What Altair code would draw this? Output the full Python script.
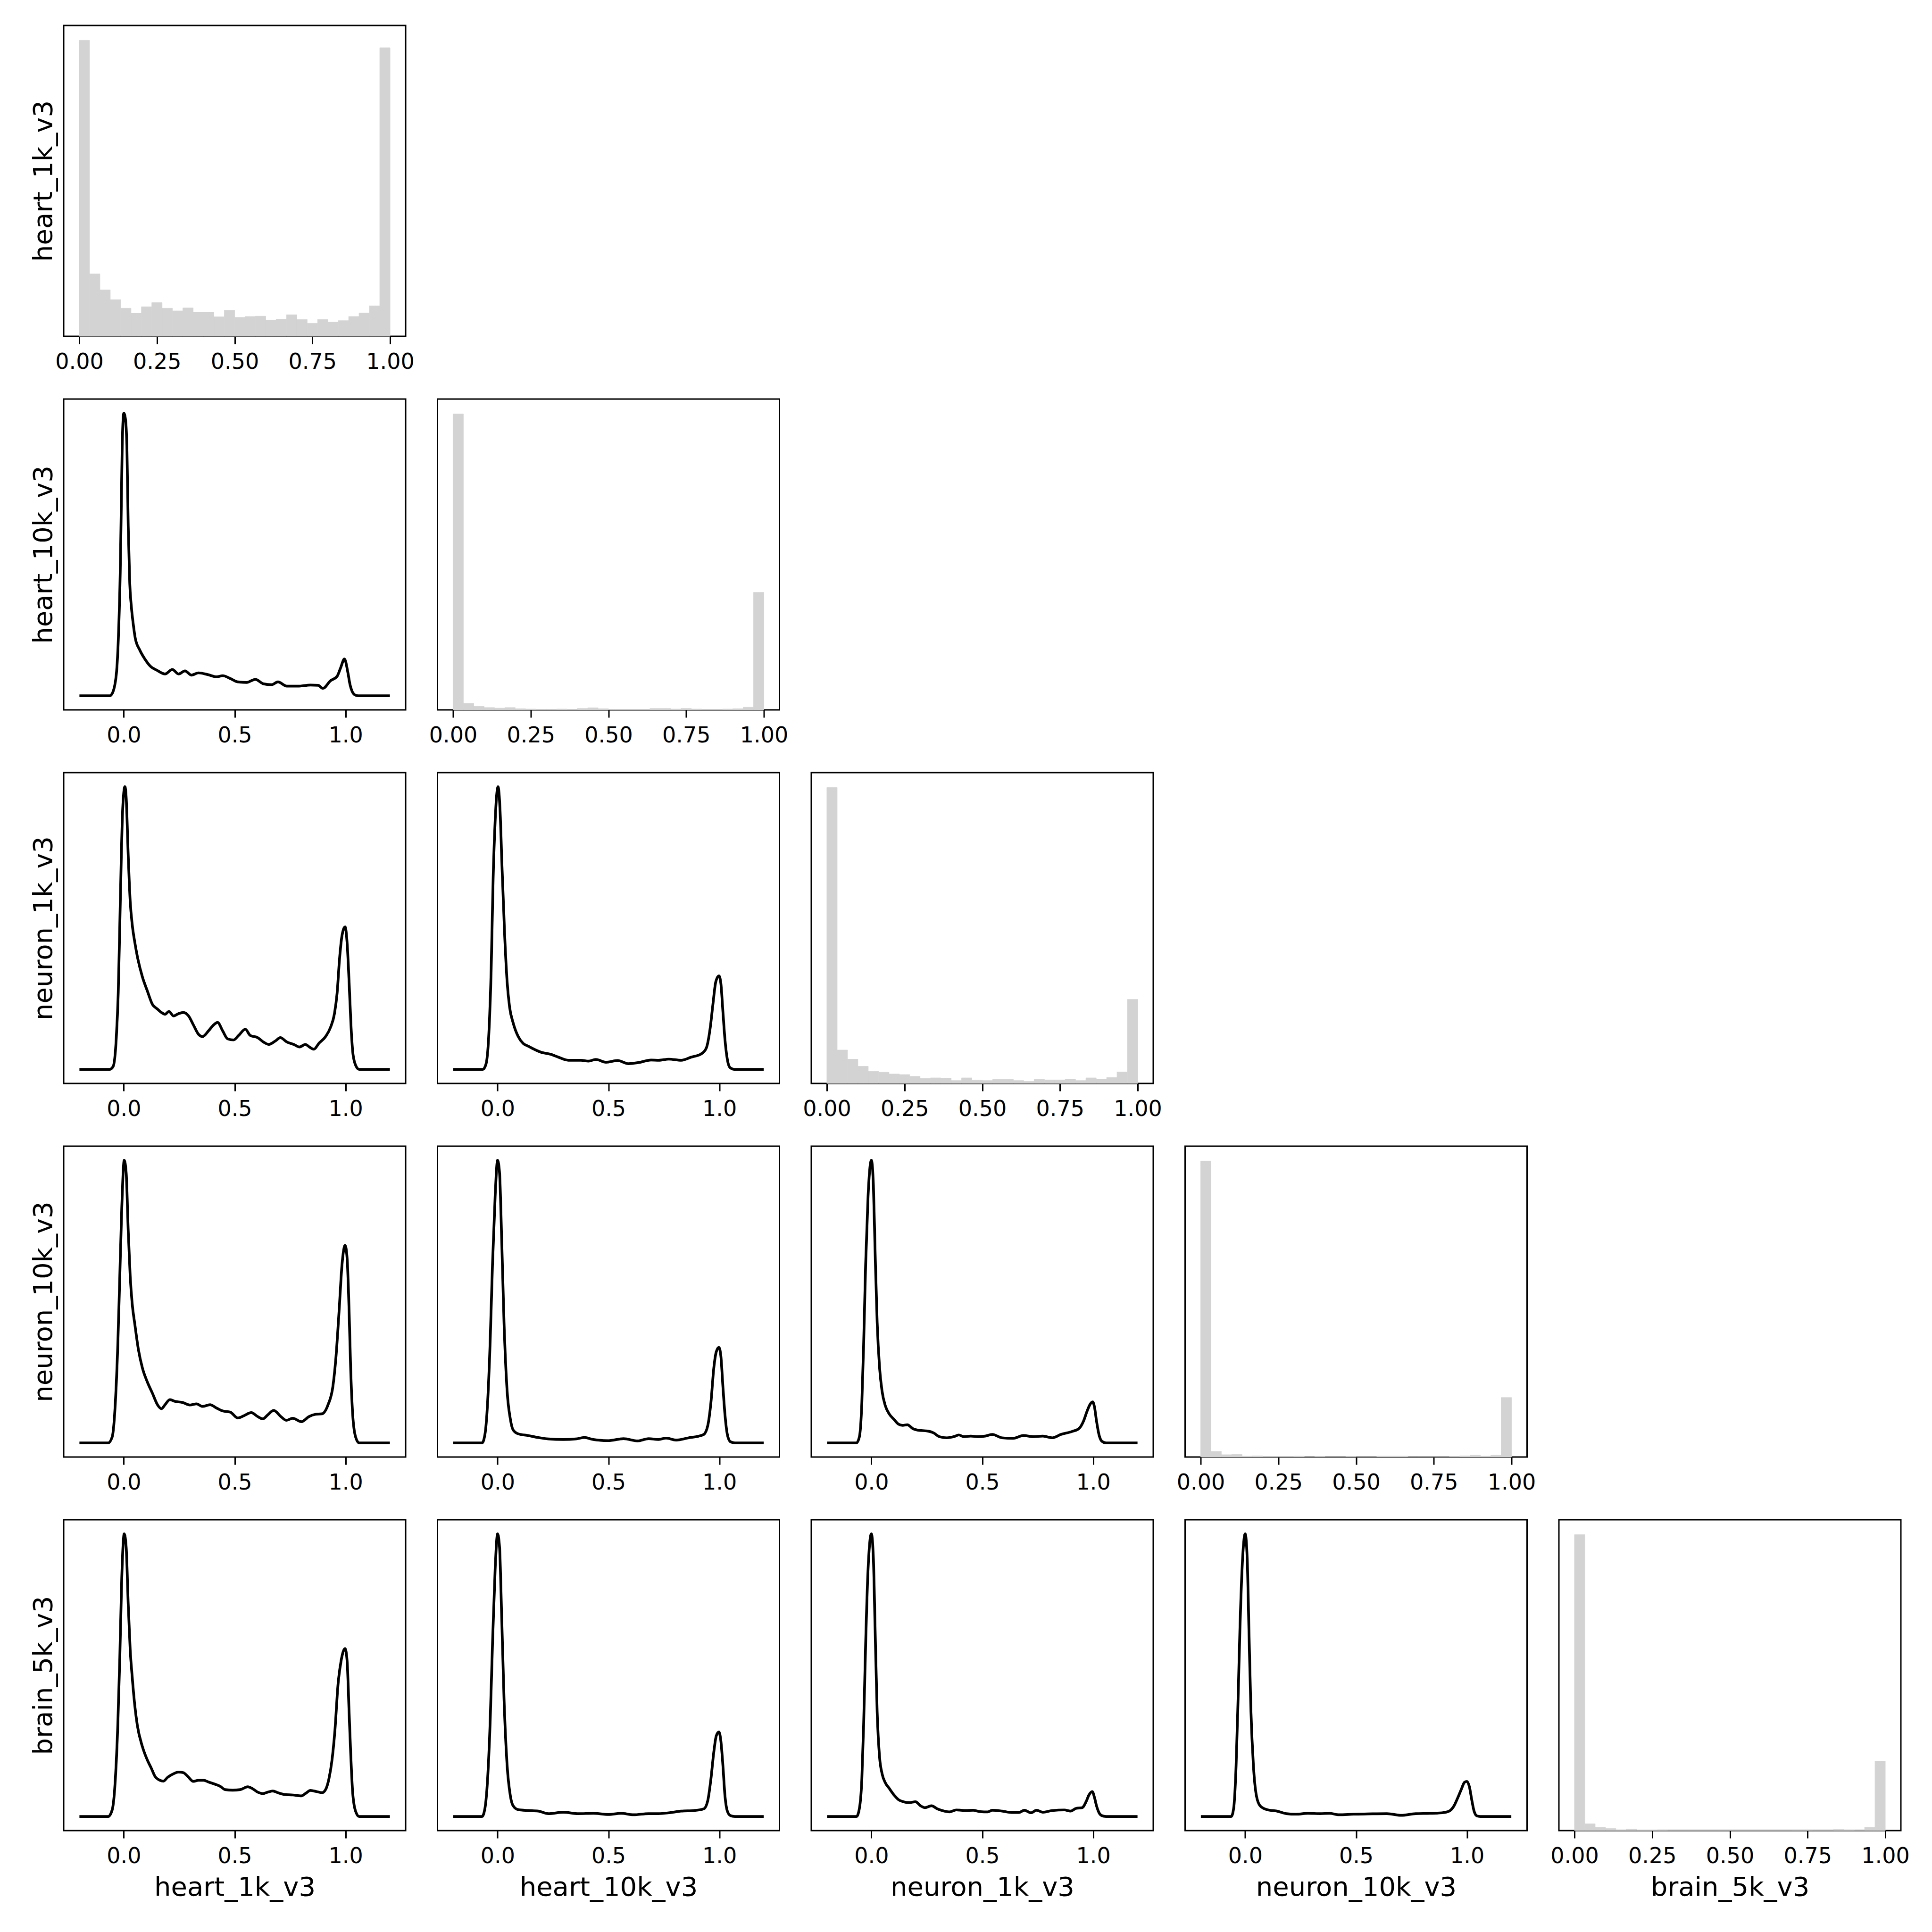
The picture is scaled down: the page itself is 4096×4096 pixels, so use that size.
import altair as alt
import pandas as pd

VARS = ["heart_1k_v3", "heart_10k_v3", "neuron_1k_v3", "neuron_10k_v3", "brain_5k_v3"]
BIN_EDGES = [i / 30 for i in range(31)]
HIST_TICKS = [0, 0.25, 0.5, 0.75, 1.0]
KDE_TICKS = [0, 0.5, 1.0]

# ---- diagonal histograms (relative counts, tallest bar = 100) ----
HIST_HEART_1K = [100, 21.1, 15.7, 12.4, 9.5, 7.8, 10.0, 11.4, 9.5, 8.6, 9.6, 8.2, 8.2, 6.6, 8.8,
                 6.4, 6.7, 6.8, 5.5, 5.8, 7.3, 5.7, 4.4, 5.7, 4.8, 5.3, 6.7, 7.9, 10.3, 97.5]
HIST_HEART_10K = [100, 2.2, 1.2, 0.8, 0.6, 0.8, 0.4, 0.3, 0.2, 0.2, 0.3, 0.2, 0.5, 0.7, 0.4,
                  0.2, 0.2, 0.2, 0.2, 0.5, 0.5, 0.3, 0.5, 0.3, 0.2, 0.2, 0.3, 0.4, 0.9, 39.7]
HIST_NEURON_1K = [100, 11.3, 8.2, 5.8, 4.1, 3.8, 3.2, 3.0, 2.4, 1.7, 1.9, 1.8, 1.0, 1.9, 1.1,
                  1.0, 1.4, 1.4, 1.0, 0.7, 1.4, 1.2, 1.2, 1.5, 1.0, 1.9, 1.5, 2.0, 3.9, 28.4]
HIST_NEURON_10K = [100, 1.9, 0.8, 0.9, 0.3, 0.4, 0.2, 0.2, 0.2, 0.3, 0.1, 0.2, 0.1, 0.1, 0.2,
                   0.1, 0.1, 0.3, 0.3, 0.3, 0.1, 0.1, 0.1, 0.1, 0.2, 0.4, 0.6, 0.3, 0.6, 20.1]
HIST_BRAIN_5K = [100, 2.3, 1.1, 0.7, 0.3, 0.5, 0.2, 0.2, 0.3, 0.1, 0.1, 0.1, 0.1, 0.1, 0.1,
                 0.1, 0.1, 0.1, 0.1, 0.1, 0.1, 0.1, 0.1, 0.1, 0.1, 0.4, 0.3, 0.1, 1.1, 23.5]
HISTS = [HIST_HEART_1K, HIST_HEART_10K, HIST_NEURON_1K, HIST_NEURON_10K, HIST_BRAIN_5K]

# ---- lower-triangle density curves (relative density, peak = 100) ----
# row 2, col 1
K21_X = [-0.2, -0.063, -0.052, -0.034, -0.023, -0.016, -0.011, -0.007, 0.0, 0.007, 0.014, 0.020,
         0.027, 0.034, 0.043, 0.052, 0.072, 0.095, 0.118, 0.152, 0.186, 0.219, 0.247, 0.276,
         0.305, 0.337, 0.378, 0.419, 0.446, 0.480, 0.514, 0.554, 0.593, 0.631, 0.667, 0.695,
         0.735, 0.785, 0.842, 0.876, 0.898, 0.932, 0.962, 0.977, 0.995, 1.011, 1.020, 1.030,
         1.045, 1.057, 1.2]
K21_Y = [0, 0, 0.8, 7.3, 23.5, 43.8, 68, 88.5, 100, 98.2, 88.5, 60, 39.8, 31.7, 25.2, 20.3, 16.2,
         13, 10.6, 8.9, 7.7, 9.3, 7.7, 8.8, 7.3, 8.1, 7.5, 6.7, 7.1, 6.1, 4.9, 4.7, 5.8, 4.2, 3.9,
         4.9, 3.4, 3.4, 3.8, 3.7, 2.6, 5.3, 6.9, 9.7, 13, 8.0, 4.0, 1.5, 0.2, 0, 0]
# row 3, col 1
K31_X = [-0.2, -0.063, -0.048, -0.034, -0.025, -0.018, -0.011, -0.005, 0.005, 0.011, 0.020,
         0.029, 0.038, 0.050, 0.061, 0.084, 0.106, 0.129, 0.152, 0.170, 0.186, 0.204, 0.224,
         0.247, 0.269, 0.292, 0.314, 0.337, 0.355, 0.382, 0.405, 0.423, 0.446, 0.468, 0.495,
         0.518, 0.548, 0.570, 0.604, 0.631, 0.654, 0.683, 0.706, 0.735, 0.767, 0.792, 0.819,
         0.837, 0.857, 0.880, 0.910, 0.932, 0.950, 0.962, 0.973, 0.984, 0.998, 1.007, 1.016,
         1.025, 1.034, 1.048, 1.061, 1.2]
K31_Y = [0, 0, 1, 10.8, 27, 51, 75.7, 91.9, 100, 96, 75.7, 59.4, 51.3, 44.8, 40, 32.7, 27.8, 23,
         21.3, 20.1, 19.5, 20.5, 18.9, 19.7, 20.1, 18.9, 15.7, 12.4, 11.6, 13.6, 15.7, 16.6,
         13.6, 10.8, 10.4, 12, 14.2, 12, 11.2, 9.6, 8.8, 10, 11.2, 9.7, 8.8, 7.9, 8.8, 7.9, 7.1,
         9.2, 11.6, 14.8, 19.7, 27, 39.2, 47.3, 50.4, 44.8, 31, 14.8, 5.1, 1, 0, 0]
# row 3, col 2
K32_X = [-0.2, -0.066, -0.052, -0.038, -0.029, -0.020, -0.011, 0.002, 0.011, 0.020, 0.032,
         0.043, 0.054, 0.070, 0.093, 0.115, 0.138, 0.165, 0.194, 0.240, 0.274, 0.319, 0.376,
         0.410, 0.443, 0.489, 0.541, 0.591, 0.636, 0.692, 0.727, 0.772, 0.828, 0.873, 0.919,
         0.941, 0.959, 0.971, 0.984, 0.998, 1.007, 1.016, 1.025, 1.036, 1.048, 1.066, 1.2]
K32_Y = [0, 0, 1.9, 14.8, 35, 67.6, 87.8, 100, 91.9, 71.6, 47.3, 31, 22.1, 16.5, 11.6, 9.2, 8.2,
         7.1, 6.1, 5.3, 4.3, 3.2, 3.2, 2.9, 3.5, 2.5, 3.1, 2.0, 2.4, 3.3, 3.2, 3.6, 3.2, 4.3,
         5.5, 7.5, 14.8, 23, 31, 33.1, 30.3, 20.5, 10.8, 3.5, 0.6, 0, 0]
# row 4, col 1
K41_X = [-0.2, -0.07, -0.052, -0.038, -0.027, -0.018, -0.009, 0.002, 0.011, 0.020, 0.029,
         0.038, 0.050, 0.066, 0.084, 0.106, 0.129, 0.152, 0.170, 0.186, 0.208, 0.231, 0.265,
         0.299, 0.328, 0.355, 0.389, 0.419, 0.446, 0.480, 0.514, 0.541, 0.575, 0.604, 0.627,
         0.649, 0.676, 0.706, 0.733, 0.762, 0.801, 0.835, 0.864, 0.894, 0.921, 0.943, 0.957,
         0.971, 0.984, 0.998, 1.007, 1.016, 1.023, 1.032, 1.045, 1.061, 1.2]
K41_Y = [0, 0, 2.2, 14.3, 34.6, 58.9, 83.2, 100, 95.4, 75.1, 58.9, 49.2, 41.9, 33, 26.5, 21.6,
         17.6, 13.5, 12.1, 13.5, 15.3, 14.7, 14.3, 13.4, 13.8, 12.9, 13.5, 12.3, 11.3, 10.9,
         8.8, 9.6, 10.7, 9.3, 8.5, 9.9, 11.5, 9.5, 8.0, 8.7, 7.5, 9.3, 10.1, 10.3, 13.5, 20,
         30.6, 46.8, 63, 69.9, 65.4, 46.8, 26.5, 10.3, 2.2, 0, 0]
# row 4, col 2
K42_X = [-0.2, -0.07, -0.057, -0.045, -0.034, -0.023, -0.011, 0.0, 0.009, 0.018, 0.029, 0.043,
         0.057, 0.070, 0.093, 0.138, 0.183, 0.229, 0.296, 0.353, 0.391, 0.432, 0.500, 0.568,
         0.631, 0.681, 0.726, 0.760, 0.805, 0.862, 0.907, 0.930, 0.948, 0.962, 0.975, 0.986,
         0.998, 1.007, 1.016, 1.025, 1.036, 1.050, 1.070, 1.2]
K42_Y = [0, 0, 3, 14.3, 34.6, 63, 87.3, 100, 95.4, 73.5, 42.7, 18.4, 8.7, 4.6, 3.2, 2.6, 1.9,
         1.4, 1.2, 1.4, 1.9, 1.2, 0.8, 1.5, 0.7, 1.5, 1.2, 1.7, 1.0, 1.8, 2.4, 3.0, 6.2, 14.3,
         26.5, 32.2, 33.8, 30.6, 20, 10.3, 3, 0.4, 0, 0]
# row 4, col 3
K43_X = [-0.2, -0.067, -0.054, -0.043, -0.035, -0.026, -0.015, 0.0, 0.009, 0.017, 0.026, 0.037,
         0.048, 0.063, 0.080, 0.102, 0.123, 0.141, 0.162, 0.188, 0.210, 0.253, 0.279, 0.307,
         0.340, 0.372, 0.394, 0.416, 0.448, 0.481, 0.513, 0.545, 0.589, 0.639, 0.686, 0.729,
         0.773, 0.816, 0.855, 0.903, 0.935, 0.957, 0.972, 0.985, 0.998, 1.006, 1.015, 1.026,
         1.039, 1.058, 1.2]
K43_Y = [0, 0, 2.2, 14.3, 34.6, 63, 87.3, 100, 91.3, 67, 42.7, 26.5, 18.4, 13.1, 10.3, 8.3, 6.6,
         6.2, 6.4, 5.0, 4.5, 4.2, 3.6, 2.2, 1.8, 2.2, 2.8, 2.2, 2.4, 2.2, 2.4, 3.0, 1.8, 1.6,
         2.6, 2.2, 2.4, 1.8, 3.0, 4.0, 5.0, 7.8, 11.1, 13.5, 14.5, 12.7, 7.8, 3.0, 0.6, 0, 0]
# row 5, col 1
K51_X = [-0.2, -0.07, -0.052, -0.038, -0.027, -0.018, -0.009, 0.002, 0.011, 0.020, 0.029,
         0.038, 0.050, 0.061, 0.084, 0.106, 0.124, 0.140, 0.163, 0.179, 0.197, 0.219, 0.247,
         0.269, 0.287, 0.314, 0.337, 0.360, 0.382, 0.412, 0.434, 0.457, 0.491, 0.525, 0.559,
         0.581, 0.604, 0.627, 0.649, 0.672, 0.695, 0.722, 0.762, 0.801, 0.819, 0.842, 0.869,
         0.894, 0.910, 0.925, 0.939, 0.952, 0.966, 0.980, 0.998, 1.007, 1.016, 1.023, 1.032,
         1.045, 1.061, 1.2]
K51_Y = [0, 0, 2.4, 13.3, 32.3, 56, 84.6, 100, 95.1, 75.1, 58.9, 49.4, 39, 32.3, 24.7, 20, 17.1,
         14.3, 12.8, 12.5, 13.8, 14.9, 15.7, 15.5, 14.3, 12.4, 12.8, 12.8, 12.2, 11.4, 10.7,
         9.5, 9.3, 9.5, 10.5, 9.8, 8.6, 8.1, 8.6, 9.0, 8.4, 7.8, 7.6, 7.3, 8.1, 9.2, 8.8, 8.4,
         9.5, 13.3, 20, 30.4, 46.6, 55.1, 59.4, 55.1, 37, 22.8, 8.6, 1.9, 0, 0]
# row 5, col 2
K52_X = [-0.2, -0.07, -0.057, -0.045, -0.034, -0.023, -0.011, 0.0, 0.009, 0.018, 0.029, 0.043,
         0.057, 0.070, 0.093, 0.138, 0.183, 0.229, 0.296, 0.364, 0.432, 0.500, 0.557, 0.613,
         0.681, 0.726, 0.772, 0.828, 0.885, 0.930, 0.948, 0.962, 0.975, 0.986, 0.998, 1.007,
         1.016, 1.025, 1.036, 1.050, 1.070, 1.2]
K52_Y = [0, 0, 2.9, 13.3, 32.3, 60.8, 87.5, 100, 95.1, 72.2, 41.8, 18.1, 7.6, 3.8, 2.4, 2.1,
         1.9, 1.0, 1.5, 1.0, 1.1, 0.7, 1.1, 0.6, 1.0, 1.0, 1.3, 1.9, 2.1, 2.7, 5.7, 13.3, 22.8,
         28.5, 29.9, 26.6, 18.1, 7.6, 1.9, 0.3, 0, 0]
# row 5, col 3
K53_X = [-0.2, -0.067, -0.054, -0.043, -0.035, -0.026, -0.015, 0.0, 0.009, 0.017, 0.026, 0.037,
         0.048, 0.063, 0.080, 0.102, 0.123, 0.145, 0.171, 0.199, 0.221, 0.242, 0.271, 0.297,
         0.329, 0.351, 0.383, 0.426, 0.459, 0.491, 0.524, 0.545, 0.589, 0.632, 0.665, 0.690,
         0.719, 0.745, 0.773, 0.816, 0.870, 0.898, 0.924, 0.950, 0.968, 0.981, 0.996, 1.006,
         1.015, 1.026, 1.039, 1.058, 1.2]
K53_Y = [0, 0, 2.9, 13.3, 32.3, 60.8, 87.5, 100, 91.3, 65.6, 37, 20.9, 15.2, 11.9, 10, 7.6, 5.9,
         5.2, 4.9, 5.2, 3.8, 3.1, 3.8, 2.7, 1.9, 1.6, 2.3, 2.1, 2.2, 1.7, 1.6, 2.2, 1.9, 1.4,
         1.4, 2.2, 1.3, 2.2, 1.5, 2.1, 2.3, 1.9, 2.9, 3.1, 5.2, 7.6, 8.8, 6.7, 3.8, 1.4, 0.3,
         0, 0]
# row 5, col 4
K54_X = [-0.2, -0.063, -0.052, -0.041, -0.032, -0.024, -0.013, 0.0, 0.009, 0.017, 0.026, 0.037,
         0.050, 0.067, 0.099, 0.143, 0.186, 0.229, 0.283, 0.337, 0.380, 0.423, 0.488, 0.553,
         0.639, 0.704, 0.769, 0.834, 0.888, 0.920, 0.942, 0.959, 0.974, 0.989, 1.0, 1.011,
         1.022, 1.032, 1.045, 1.060, 1.2]
K54_Y = [0, 0, 2.9, 18.1, 41.8, 65.6, 89.4, 100, 91.3, 65.6, 37, 18.1, 7.6, 3.8, 2.4, 1.9, 1.0,
         0.8, 1.1, 1.0, 1.1, 0.6, 0.8, 0.9, 1.0, 0.4, 1.0, 1.1, 1.3, 1.9, 3.8, 6.7, 9.5, 12.1,
         12.4, 10.5, 5.7, 1.9, 0.2, 0, 0]

KDES = {
    (1, 0): (K21_X, K21_Y),
    (2, 0): (K31_X, K31_Y),
    (2, 1): (K32_X, K32_Y),
    (3, 0): (K41_X, K41_Y),
    (3, 1): (K42_X, K42_Y),
    (3, 2): (K43_X, K43_Y),
    (4, 0): (K51_X, K51_Y),
    (4, 1): (K52_X, K52_Y),
    (4, 2): (K53_X, K53_Y),
    (4, 3): (K54_X, K54_Y),
}

W, H = 725, 659
FONT = "DejaVu Sans"
BAR_COLOR = "#d3d3d3"


def x_axis(ticks, fmt, title):
    kw = dict(values=ticks, format=fmt, labelOverlap=False, labelFlush=False,
              grid=False, domain=False)
    kw["title"] = title if title else None
    return alt.Axis(**kw)


def y_enc(field, domain, row, col):
    sc = alt.Scale(domain=domain, nice=False, zero=False)
    if col == 0:
        ax = alt.Axis(title=VARS[row], labels=False, ticks=False, domain=False,
                      grid=False, titlePadding=14)
        return alt.Y(field, scale=sc, axis=ax)
    return alt.Y(field, scale=sc, axis=None)


def hist_cell(i):
    df = pd.DataFrame({"lo": BIN_EDGES[:-1], "hi": BIN_EDGES[1:], "count": HISTS[i]})
    xtitle = VARS[i] if i == 4 else None
    return alt.Chart(df).mark_rect(color=BAR_COLOR, opacity=1, stroke=BAR_COLOR,
                                   strokeWidth=0.8).encode(
        x=alt.X("lo:Q", scale=alt.Scale(domain=[-0.05, 1.05], nice=False, zero=False),
                axis=x_axis(HIST_TICKS, ".2f", xtitle)),
        x2="hi:Q",
        y=y_enc("count:Q", [0, 105], i, i),
        y2=alt.datum(0),
    ).properties(width=W, height=H)


def kde_cell(r, c):
    xs, ys = KDES[(r, c)]
    df = pd.DataFrame({"x": xs, "density": ys})
    xtitle = VARS[c] if r == 4 else None
    return alt.Chart(df).mark_line(color="black", strokeWidth=5.7, interpolate="monotone").encode(
        x=alt.X("x:Q", scale=alt.Scale(domain=[-0.271, 1.271], nice=False, zero=False),
                axis=x_axis(KDE_TICKS, ".1f", xtitle)),
        y=y_enc("density:Q", [-5, 105], r, c),
    ).properties(width=W, height=H)


def empty_cell():
    df = pd.DataFrame({"v": pd.Series([], dtype=float)})
    return alt.Chart(df).mark_point().encode(
        x=alt.X("v:Q", axis=None),
        y=alt.Y("v:Q", axis=None),
    ).properties(width=W, height=H, view=alt.ViewBackground(stroke="transparent"))


cells = []
for r in range(5):
    for c in range(5):
        if c == r:
            cells.append(hist_cell(r))
        elif c < r:
            cells.append(kde_cell(r, c))
        else:
            cells.append(empty_cell())

chart = alt.concat(*cells, columns=5, spacing={"row": 133, "column": 67.5}, bounds="flush").properties(
    padding={"left": 62, "top": 52, "right": 20, "bottom": 20},
    background="white",
).configure_view(
    stroke="black", strokeWidth=3
).configure_axis(
    labelFont=FONT, labelFontSize=46, labelColor="black",
    tickColor="black", tickWidth=3, tickSize=16, labelPadding=16,
    titleFont=FONT, titleFontSize=56, titleFontWeight="normal", titleColor="black",
    titlePadding=16,
)

chart.save("out.html", embed_options={"renderer": "svg", "actions": False})
